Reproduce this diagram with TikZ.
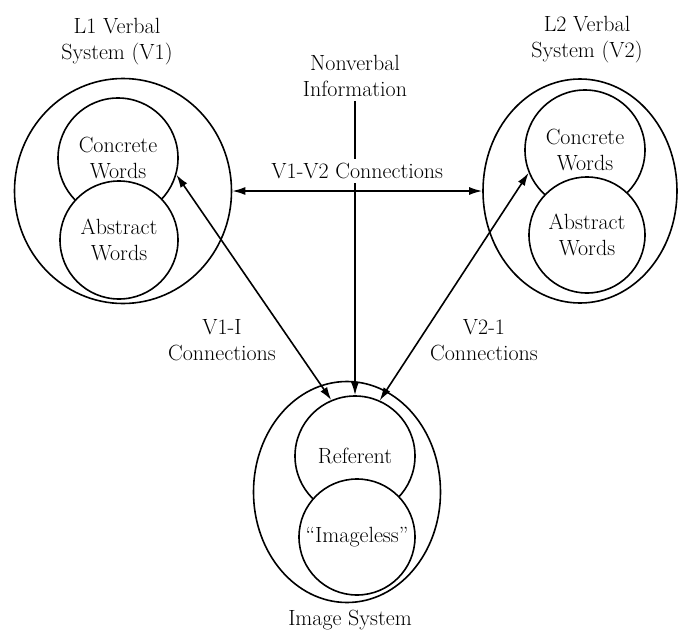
\documentclass[tikz,border=0pt]{standalone}
\usepackage{fontspec}
\usetikzlibrary{shapes.geometric,arrows.meta}

\begin{document}
\begin{tikzpicture}[x=1pt,y=-1pt,line width=1.6pt,
   every node/.style={font=\fontsize{22}{26}\selectfont,align=center},
   system/.style={draw,ellipse,inner sep=0pt},
   part/.style={draw,circle,fill=white,inner sep=0pt,minimum size=#1},
   tip/.style={-{Latex[length=13pt,width=8pt]}},
   link/.style={{Latex[length=13pt,width=8pt]}-{Latex[length=13pt,width=8pt]}}]
\useasboundingbox (0,0) rectangle (678,632);
% the three systems
\node[system,minimum width=217pt,minimum height=225pt] (v1) at (123,191) {};
\node[system,minimum width=194pt,minimum height=224pt] (v2) at (580,191) {};
\node[system,minimum width=187pt,minimum height=221pt] (img) at (347,492) {};
% word and image stores
\node[part=120pt] (con1) at (118,158) {Concrete\\Words};
\node[part=118pt] (abs1) at (119,240) {Abstract\\Words};
\node[part=120pt] (con2) at (585,150) {Concrete\\Words};
\node[part=116pt] (abs2) at (587,235) {Abstract\\Words};
\node[part=120pt] (ref) at (355,456) {Referent};
\node[part=116pt] (iml) at (357,537) {“Imageless”};
% captions
\node (t1) at (117,42) {L1 Verbal\\System (V1)};
\node (t2) at (587,40) {L2 Verbal\\System (V2)};
\node (nv) at (355,76) {Nonverbal\\Information};
\node (c1) at (222,340) {V1-I\\Connections};
\node (c2) at (484,340) {V2-1\\Connections};
\node (ti) at (350,620) {Image System};
% connections
\draw[tip] (nv.south) -- (nv.south |- ref.north);
\draw[link] (v1.east) -- node[fill=white,above=7pt,inner sep=4pt] (vv) {V1-V2 Connections} (v2.west);
\draw[link] (con1.-16) -- (ref.113);
\draw[link] (con2.202) -- (ref.66);
\end{tikzpicture}
\end{document}
